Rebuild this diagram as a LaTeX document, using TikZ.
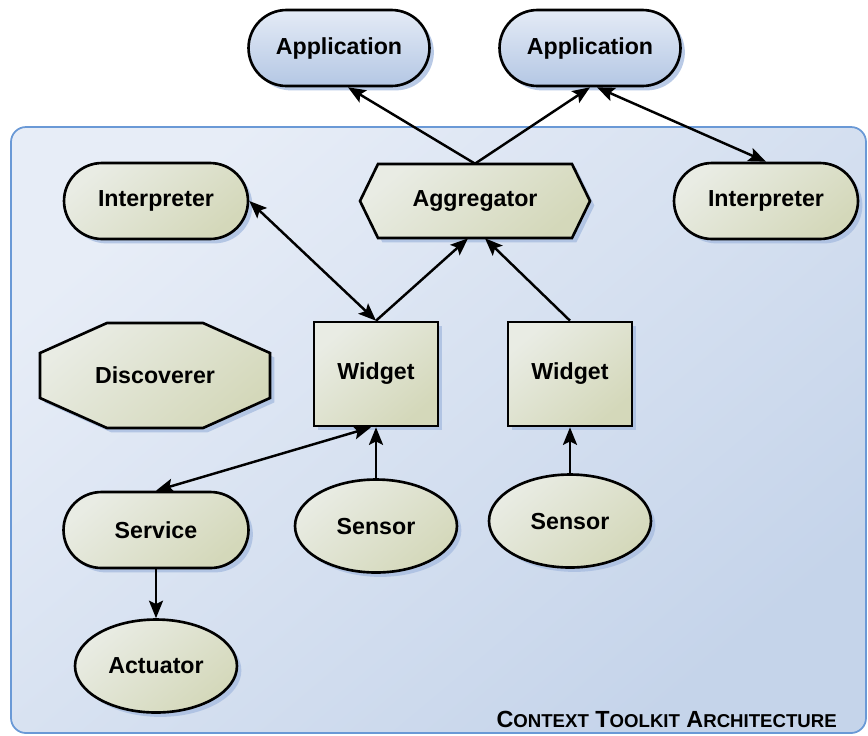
\documentclass[tikz,border=0pt]{standalone}
\usepackage{fontspec}
\setmainfont{Liberation Sans}
\usetikzlibrary{
  positioning, arrows.meta, shapes.geometric, shadows
}
\definecolor{olivetop}{HTML}{E9ECE4}
\definecolor{olivebot}{HTML}{D4D8BA}
\definecolor{apptop}{HTML}{E4EBF6}
\definecolor{appbot}{HTML}{B4C7E4}
\definecolor{panellight}{HTML}{E7EDF7}
\definecolor{paneldark}{HTML}{C5D4EA}
\definecolor{panelline}{HTML}{6A99D6}
\definecolor{shadowblue}{HTML}{A8BDE0}
\newcommand{\fakesc}[2]{{\fontsize{13.3}{15}\selectfont #1}{\fontsize{10.6}{12}\selectfont #2}}

\begin{document}
\begin{tikzpicture}[
      x=0.02cm, y=-0.02cm,
      every node/.style={font=\fontsize{13.2}{15}\selectfont\bfseries},
      part/.style={draw, line width=1.5pt, top color=olivetop, bottom color=olivebot, shading angle=40,
        drop shadow={shadow xshift=2.5pt, shadow yshift=-2.5pt, fill=shadowblue, opacity=.8}},
      pill/.style={part, rounded corners=0.76cm, minimum width=3.68cm, minimum height=1.52cm},
      app/.style={pill, top color=apptop, bottom color=appbot, minimum width=3.62cm},
      widgetbox/.style={part, minimum width=2.48cm, minimum height=2.08cm},
      blob/.style={part, ellipse, minimum width=3.24cm, minimum height=1.86cm},
      label/.style={inner sep=0pt},
      tip/.tip={Stealth[length=10pt,width=8pt,inset=2pt]},
      link/.style={-tip, line width=1.4pt},
      bilink/.style={tip-tip, line width=1.4pt},
    ]
    \useasboundingbox (0,0) rectangle (868,735);

    % Toolkit panel
    \path[draw=panelline, line width=1pt, rounded corners=0.3cm,
          top color=panellight, bottom color=paneldark, shading angle=40]
      (11,127) rectangle (866,733);

    % Applications
    \node[app] (app1) at (339,48) {Application};
    \node[app] (app2) at (590,48) {Application};
    % Row 1
    \node[pill] (interpL) at (156,201) {Interpreter};
    \path[part, line join=miter] (360,201) -- (378,164) -- (572,164) -- (590,201) -- (572,238) -- (378,238) -- cycle;
    \node[label, minimum width=4.6cm, minimum height=1.48cm] (agg) at (475,201) {Aggregator};
    \node[pill] (interpR) at (766,201) {Interpreter};
    % Row 2
    \path[part] (40,353) -- (107,323) -- (203,323) -- (270,353) -- (270,398) -- (203,428) -- (107,428) -- (40,398) -- cycle;
    \node[label, minimum width=4.6cm, minimum height=2.1cm] (disc) at (155,375) {Discoverer};
    \node[widgetbox] (wid1) at (376,374) {Widget};
    \node[widgetbox] (wid2) at (570,374) {Widget};
    % Row 3
    \node[pill, minimum width=3.7cm] (serv) at (156,530) {Service};
    \node[blob] (sens1) at (376,526) {Sensor};
    \node[blob] (sens2) at (570,521) {Sensor};
    \node[blob] (act) at (156,666) {Actuator};

    \node[anchor=base east] (title) at (843,727) {\fakesc{C}{ONTEXT} \fakesc{T}{OOLKIT} \fakesc{A}{RCHITECTURE}};

    \draw[link] (agg.north) -- ([xshift=0.18cm]app1.south);
    \draw[link] (agg.north) -- (app2.south);
    \draw[bilink] ([xshift=0.14cm]app2.south) -- (interpR.north);
    \draw[bilink] (interpL.east) -- (wid1.north);
    \draw[link] (wid1.north) -- ([xshift=-0.14cm]agg.south);
    \draw[link] (wid2.north) -- ([xshift=0.2cm]agg.south);
    \draw[bilink] (serv.north) -- ([xshift=-0.1cm]wid1.south);
    \draw[link] (sens1.north) -- (wid1.south);
    \draw[link] (sens2.north) -- (wid2.south);
    \draw[link] (serv.south) -- (act.north);
  \end{tikzpicture}
\end{document}
